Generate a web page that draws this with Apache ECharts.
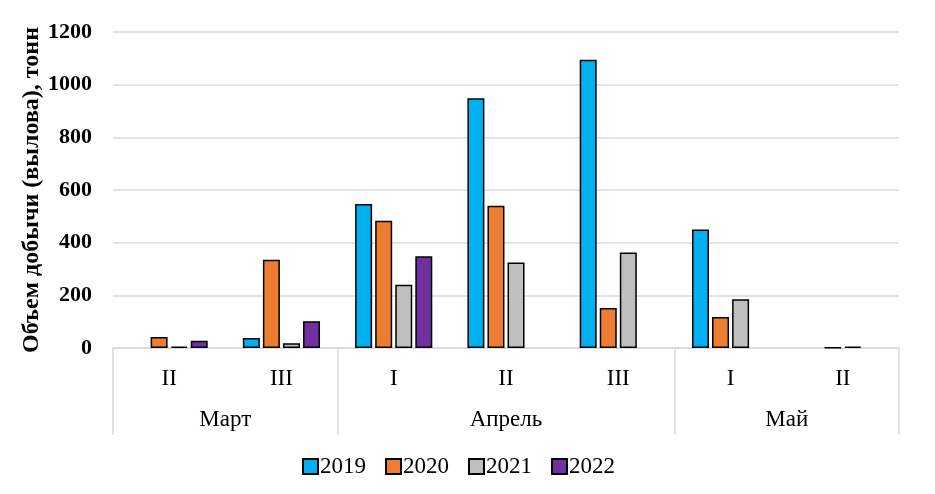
<!DOCTYPE html>
<html><head><meta charset="utf-8">
<script src="https://cdn.jsdelivr.net/npm/echarts@6/dist/echarts.min.js"></script>
<style>html,body{margin:0;padding:0;background:#fff}#c{width:935px;height:494px}</style>
</head><body><div id="c"></div>
<script>
const decades = ['II','III','I','II','III','I','II'];
const months = ['Март','Апрель','Май'];
const monthBounds = [0, 2, 5, 7];
const monthCenters = [1, 3.5, 6];
const years = ['2019','2020','2021','2022'];
const s2019 = [null, 38, 547, 948, 1095, 450, null];
const s2020 = [42, 335, 483, 540, 152, 118, 2];
const s2021 = [5, 18, 240, 325, 363, 185, 5];
const s2022 = [28, 102, 348, null, null, null, null];
const yTicks = [0, 200, 400, 600, 800, 1000, 1200];
const colors = ['#00b0f0','#ed7d31','#bfbfbf','#7030a0'];
const font = '"Liberation Serif","Times New Roman",serif';

const chart = echarts.init(document.getElementById('c'));
const seriesData = [s2019, s2020, s2021, s2022];
chart.setOption({
  animation: false,
  grid: {left: 113, right: 36, top: 32, bottom: 146},
  legend: {
    data: years, top: 450, left: 297, itemWidth: 15, itemHeight: 15, itemGap: 19,
    textStyle: {fontFamily: font, fontSize: 23, color: '#000', padding: [0,0,0,-3]},
    icon: 'rect'
  },
  xAxis: [{
    type: 'category', data: decades, position: 'bottom',
    axisLine: {lineStyle: {color: '#d9d9d9', width: 1.5}},
    axisTick: {show: false},
    axisLabel: {fontFamily: font, fontSize: 23, color: '#000', margin: 19}
  }, {
    type: 'value', min: 0, max: 7, position: 'bottom',
    axisLine: {show: false},
    splitLine: {show: false},
    axisTick: {show: true, customValues: monthBounds, length: 87, lineStyle: {color: '#d9d9d9', width: 1.5}},
    axisLabel: {show: true, customValues: monthCenters, margin: 60, fontFamily: font, fontSize: 23, color: '#000',
      formatter: v => months[monthCenters.indexOf(v)]}
  }],
  yAxis: {
    type: 'value', min: yTicks[0], max: yTicks[yTicks.length-1], interval: 200,
    name: 'Объем добычи (вылова), тонн', nameLocation: 'middle', nameGap: 69, nameMoveOverlap: false,
    nameTextStyle: {fontFamily: font, fontSize: 24, fontWeight: 'bold', color: '#000'},
    axisLine: {show: false}, axisTick: {show: false},
    axisLabel: {fontFamily: font, fontSize: 22, fontWeight: 'bold', color: '#000', margin: 21,
      formatter: v => String(v)},
    splitLine: {lineStyle: {color: '#d9d9d9', width: 1.5}}
  },
  series: seriesData.map((d, i) => ({
    name: years[i], type: 'bar', xAxisIndex: 0, data: d,
    barWidth: 17, barGap: '18%',
    itemStyle: {color: colors[i], borderColor: '#000', borderWidth: 1.5}
  }))
});
</script></body></html>
